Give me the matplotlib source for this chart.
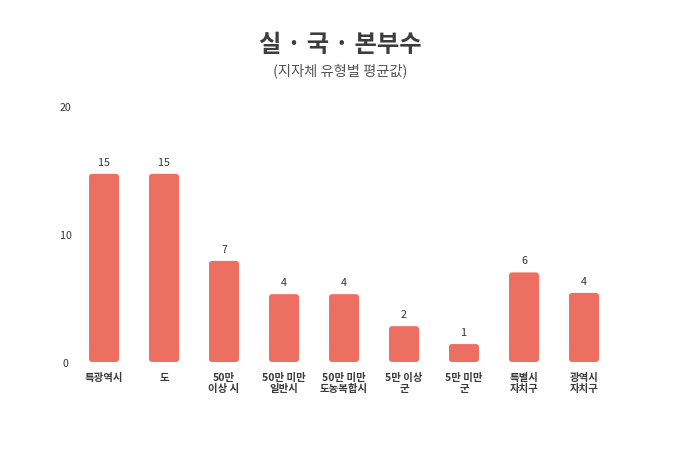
import matplotlib.pyplot as plt
from matplotlib.patches import FancyBboxPatch

plt.rcParams['font.family'] = ['Noto Sans CJK KR', 'DejaVu Sans']

# data
categories = ['특광역시', '도', '50만\n이상 시', '50만 미만\n일반시', '50만 미만\n도농복합시',
              '5만 이상\n군', '5만 미만\n군', '특별시\n자치구', '광역시\n자치구']
heights = [14.7, 14.7, 7.9, 5.3, 5.3, 2.8, 1.4, 7.0, 5.4]
value_labels = ['15', '15', '7', '4', '4', '2', '1', '6', '4']
yticks = [0, 10, 20]

bar_color = '#ED6F62'
W, H = 680, 460

fig = plt.figure(figsize=(6.8, 4.6), dpi=100)
ax = fig.add_axes([74 / W, 97 / H, 540 / W, 256 / H])
ax.set_xlim(-0.5, len(categories) - 0.5)
ax.set_ylim(0, 20)

bw = 0.5
for i, h in enumerate(heights):
    p = FancyBboxPatch((i - bw / 2, 0), bw, h,
                       boxstyle='round,pad=0,rounding_size=0.05',
                       mutation_aspect=4.7, fc=bar_color, ec='none')
    ax.add_patch(p)
    ax.annotate(value_labels[i], (i, h), xytext=(0, 5), textcoords='offset points',
                ha='center', va='bottom', fontsize=7.7, color='#333333')
    ax.annotate(categories[i], (i, 0), xytext=(0, -7), textcoords='offset points',
                ha='center', va='top', fontsize=7.5, color='#3a3a3a',
                fontweight='bold', linespacing=1.2)

ax.set_yticks(yticks)
ax.set_yticklabels([str(t) for t in yticks])
for lab in ax.get_yticklabels():
    lab.set_horizontalalignment('center')
    lab.set_fontweight('medium')
ax.tick_params(axis='y', length=0, pad=6, labelsize=7.7, labelcolor='#333333')
ax.set_xticks([])
for s in ax.spines.values():
    s.set_visible(False)

fig.text(340 / W, 1 - 45 / H, '실 · 국 · 본부수', ha='center', va='center',
         fontsize=17.5, fontweight='bold', color='#3d3d3d')
fig.text(340 / W, 1 - 71 / H, '(지자체 유형별 평균값)', ha='center', va='center',
         fontsize=10.3, color='#555555')

fig.savefig('out.png', dpi=100, facecolor='white')
